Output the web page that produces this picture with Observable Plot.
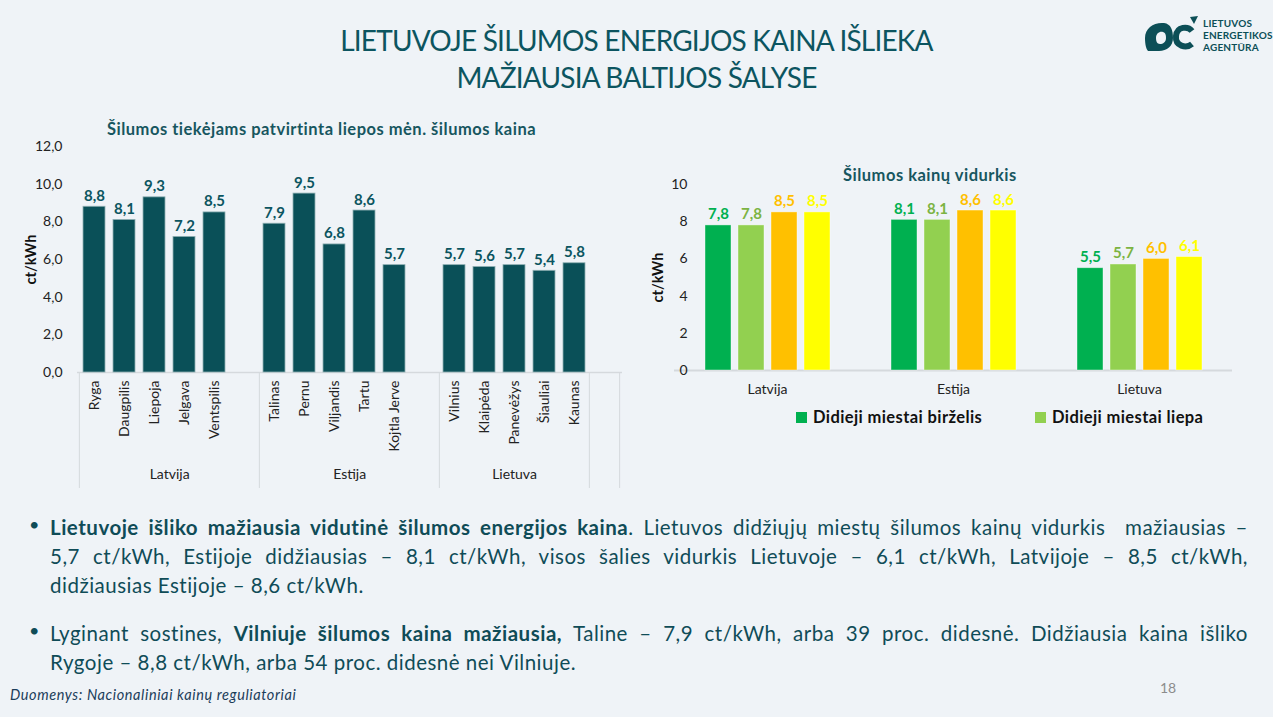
<!DOCTYPE html>
<html><head><meta charset="utf-8">
<script src="https://cdn.jsdelivr.net/npm/d3@7"></script>
<script src="https://cdn.jsdelivr.net/npm/@observablehq/plot@0.6"></script>
<style>
html,body{margin:0;padding:0;background:#eff3f7;}
#page{position:relative;width:1273px;height:717px;overflow:hidden;background:#eff3f7;font-family:Lato,"Open Sans",sans-serif;color:#0f4c57;}
.abs{position:absolute;}
#title{left:0;top:22px;width:1273px;text-align:center;font-size:28px;line-height:37px;color:#0c5560;letter-spacing:-0.8px;}
.sub{font-weight:bold;font-size:16.5px;letter-spacing:0.5px;color:#17565f;white-space:nowrap;}
.legend{font-weight:bold;font-size:16.5px;letter-spacing:0.4px;color:#111;white-space:nowrap;display:flex;align-items:center;}
.legend i{display:inline-block;width:11px;height:11px;margin-right:6px;}
.para{left:50px;width:1198px;font-size:20.5px;letter-spacing:0.5px;line-height:29px;color:#0f4c57;}
.para div{text-align:justify;text-align-last:justify;}
.para div.last{text-align:left;text-align-last:left;}
.bullet{font-size:18px;color:#0f4c57;}
</style></head>
<body><div id="page">
<div id="title" class="abs">LIETUVOJE ŠILUMOS ENERGIJOS KAINA IŠLIEKA<br>MAŽIAUSIA BALTIJOS ŠALYSE</div>
<svg class="abs" style="left:1140px;top:14px" width="62" height="42" viewBox="0 0 62 42">
  <path fill="#0c4f57" fill-rule="evenodd" d="M5 24 C5 14 14 8 24 9 C31 10 33 16 33 24 C33 32 27 37 19 37 L8 37 C6 35 5 30 5 24 Z M16 24 C16 19 20 17 23 18 C26 19 26 22 26 24 C26 28 23 30 20 30 C17 30 16 27 16 24 Z"/>
  <path fill="none" stroke="#0c4f57" stroke-width="6" d="M52 17 C48 12 37 12 36 22 C35 32 46 35 52 30"/>
  <path fill="#0c4f57" d="M50 3 L58 2 L54 10 Z"/>
</svg>
<div class="abs" style="left:1203px;top:17px;font-weight:bold;font-size:10px;line-height:12.2px;color:#0c4f57;letter-spacing:0.2px">LIETUVOS<br>ENERGETIKOS<br>AGENTŪRA</div>
<div class="abs sub" style="left:107px;top:119px">Šilumos tiekėjams patvirtinta liepos mėn. šilumos kaina</div>
<div class="abs sub" style="left:843px;top:165px">Šilumos kainų vidurkis</div>
<div id="leftChart" class="abs" style="left:0;top:136px"></div>
<div id="rightChart" class="abs" style="left:600px;top:170px"></div>
<div id="legend1" class="abs legend" style="left:796px;top:407px"></div>
<div id="legend2" class="abs legend" style="left:1035px;top:407px"></div>
<div class="abs bullet" style="left:29px;top:513px">•</div>
<div class="abs para" style="top:513px">
  <div><b>Lietuvoje išliko mažiausia vidutinė šilumos energijos kaina</b>. Lietuvos didžiųjų miestų šilumos kainų vidurkis&nbsp; mažiausias –</div>
  <div>5,7 ct/kWh, Estijoje didžiausias – 8,1 ct/kWh, visos šalies vidurkis Lietuvoje – 6,1 ct/kWh, Latvijoje – 8,5 ct/kWh,</div>
  <div class="last">didžiausias Estijoje – 8,6 ct/kWh.</div>
</div>
<div class="abs bullet" style="left:29px;top:619px">•</div>
<div class="abs para" style="top:619px">
  <div>Lyginant sostines, <b>Vilniuje šilumos kaina mažiausia,</b> Taline – 7,9 ct/kWh, arba 39 proc. didesnė. Didžiausia kaina išliko</div>
  <div class="last">Rygoje – 8,8 ct/kWh, arba 54 proc. didesnė nei Vilniuje.</div>
</div>
<div class="abs" style="left:10px;top:686px;font-style:italic;font-size:14.5px;letter-spacing:0.6px;color:#1b3d5a">Duomenys: Nacionaliniai kainų reguliatoriai</div>
<div class="abs" style="left:1160px;top:679px;font-size:14px;color:#8c8c8c">18</div>
</div>
<script>
// ---- data: left chart ----
const countries = ["Latvija", "Estija", "Lietuva"];
const latvijaCities = ["Ryga", "Daugpilis", "Liepoja", "Jelgava", "Ventspilis"];
const latvijaPrices = [8.8, 8.1, 9.3, 7.2, 8.5];
const estijaCities = ["Talinas", "Pernu", "Viljandis", "Tartu", "Kojtla Jerve"];
const estijaPrices = [7.9, 9.5, 6.8, 8.6, 5.7];
const lietuvaCities = ["Vilnius", "Klaipėda", "Panevėžys", "Šiauliai", "Kaunas"];
const lietuvaPrices = [5.7, 5.6, 5.7, 5.4, 5.8];
const leftTicks = [0, 2, 4, 6, 8, 10, 12];
// ---- data: right chart ----
const avgSeries = ["Didieji miestai birželis", "Didieji miestai liepa", "Šalies vidurkis birželis", "Šalies vidurkis liepa"];
const avgLatvija = [7.8, 7.8, 8.5, 8.5];
const avgEstija = [8.1, 8.1, 8.6, 8.6];
const avgLietuva = [5.5, 5.7, 6.0, 6.1];
const rightTicks = [0, 2, 4, 6, 8, 10];
const avgColors = ["#00b050", "#92d050", "#ffc000", "#ffff00"];
const avgLabelColors = ["#00b050", "#7cb342", "#ffc000", "#ffff00"];
const legendShown = [0, 1];

const fmt1 = v => d3.format(".1f")(v).replace(".", ",");
const FONT = "Lato, 'Open Sans', sans-serif";
const TEAL = "#0a5058";

// ---- left chart ----
const cityGroups = [
  {country: "Latvija", cities: latvijaCities, prices: latvijaPrices},
  {country: "Estija", cities: estijaCities, prices: estijaPrices},
  {country: "Lietuva", cities: lietuvaCities, prices: lietuvaPrices}
];
const slots = [];
const spans = [];
cityGroups.forEach((g, gi) => {
  const members = g.cities.map((c, i) => ({key: c, value: g.prices[i]}));
  if (gi < cityGroups.length - 1) members.push({key: "__blank" + gi, value: null});
  spans.push({country: g.country, keys: members.map(d => d.key)});
  slots.push(...members);
});
slots.push({key: "__blankEnd", value: null});
spans.push({country: "", keys: ["__blankEnd"]});
const bars = slots.filter(d => d.value != null);

const LW = 640, LH = 360, LML = 77, LMR = 18, LMT = 10, LMB = 124;
const pIn = 0.26, pOut = 0.13;
const step = (LW - LML - LMR) / (slots.length - pIn + 2 * pOut);
const frameH = LH - LMT - LMB;
const below = 116;

const dividerStarts = spans.map(s => s.keys[0]);
const lastKey = spans[spans.length - 1].keys.slice(-1)[0];

const groupLabelMarks = spans.filter(s => s.country).map(s => {
  const mid = (s.keys.length - 1) / 2;
  return Plot.text([s], {
    x: d => d.keys[Math.floor(mid)], text: "country", frameAnchor: "bottom",
    dy: 106, dx: (mid % 1) * step, fontSize: 14, fill: "#222"
  });
});

const left = Plot.plot({
  width: LW, height: LH, marginLeft: LML, marginRight: LMR, marginTop: LMT, marginBottom: LMB,
  style: {background: "transparent", fontFamily: FONT, color: "#222", overflow: "visible"},
  x: {domain: slots.map(d => d.key), paddingInner: pIn, paddingOuter: pOut, label: null},
  y: {domain: [0, 12], label: null},
  marks: [
    Plot.ruleY([0], {stroke: "#d5d9dd", strokeWidth: 1.3}),
    Plot.ruleX(dividerStarts, {dx: -step / 2, stroke: "#d5d9dd", insetTop: frameH, insetBottom: -below}),
    Plot.ruleX([lastKey], {dx: step / 2, stroke: "#d5d9dd", insetTop: frameH, insetBottom: -below}),
    Plot.barY(bars, {x: "key", y: "value", fill: TEAL, stroke: "#8fb0b3", strokeWidth: 0.8}),
    Plot.text(bars, {x: "key", y: "value", text: d => fmt1(d.value), dy: -6, lineAnchor: "bottom", fill: "#0b5560", fontWeight: "bold", fontSize: 15}),
    Plot.axisX({tickRotate: -90, tickSize: 0, tickPadding: 8, tickFormat: k => k.startsWith("__") ? "" : k, fontSize: 14, fill: "#222", label: null}),
    Plot.axisY(leftTicks, {tickSize: 0, tickPadding: 15, tickFormat: fmt1, fontSize: 14, fill: "#222", label: null}),
    Plot.text(["ct/kWh"], {text: d => d, frameAnchor: "left", textAnchor: "middle", rotate: -90, dx: -46, fontWeight: "bold", fontSize: 14.5, fill: "#111"}),
    ...groupLabelMarks
  ]
});
document.getElementById("leftChart").append(left);

// ---- right chart ----
const avgByCountry = [avgLatvija, avgEstija, avgLietuva];
const rows = [];
countries.forEach((c, ci) => avgSeries.forEach((s, si) => rows.push({country: c, series: s, value: avgByCountry[ci][si]})));

const RW = 650, RH = 232, RML = 74, RMR = 18, RMT = 14, RMB = 32;
const fxIn = 0.312, fxOut = 0.156;
const fxStep = (RW - RML - RMR) / (countries.length - fxIn + 2 * fxOut);
const halfGap = fxStep * fxIn / 2;

const right = Plot.plot({
  width: RW, height: RH, marginLeft: RML, marginRight: RMR, marginTop: RMT, marginBottom: RMB,
  style: {background: "transparent", fontFamily: FONT, color: "#222", overflow: "visible"},
  fx: {domain: countries, paddingInner: fxIn, paddingOuter: fxOut, label: null},
  x: {domain: avgSeries, paddingInner: 0.22, paddingOuter: 0, axis: null},
  y: {domain: [0, 10], label: null},
  color: {domain: avgSeries, range: avgColors},
  marks: [
    Plot.ruleY([0], {stroke: "#d5d9dd", strokeWidth: 2, insetLeft: -halfGap, insetRight: -halfGap}),
    Plot.barY(rows, {fx: "country", x: "series", y: "value", fill: "series", stroke: "#ffffff", strokeOpacity: 0.5, strokeWidth: 0.8}),
    ...avgSeries.map((s, si) => Plot.text(rows.filter(r => r.series === s), {
      fx: "country", x: "series", y: "value", text: d => fmt1(d.value), dy: -6, lineAnchor: "bottom",
      fill: avgLabelColors[si], fontWeight: "bold", fontSize: 15
    })),
    Plot.axisFx({anchor: "bottom", tickSize: 0, tickPadding: 14, fontSize: 14, fill: "#222", label: null}),
    Plot.axisY(rightTicks, {tickSize: 0, tickPadding: 16, fontSize: 14, fill: "#222", label: null}),
    Plot.text(["ct/kWh"], {text: d => d, frameAnchor: "left", textAnchor: "middle", rotate: -90, dx: -45, fontWeight: "bold", fontSize: 14.5, fill: "#111", facet: "super"})
  ]
});
document.getElementById("rightChart").append(right);

// ---- legend (only the first two entries are visible in the original) ----
["legend1", "legend2"].forEach((id, i) => {
  const si = legendShown[i];
  const el = document.getElementById(id);
  const sw = document.createElement("i");
  sw.style.background = avgColors[si];
  el.append(sw, document.createTextNode(avgSeries[si]));
});
</script>
</body></html>
